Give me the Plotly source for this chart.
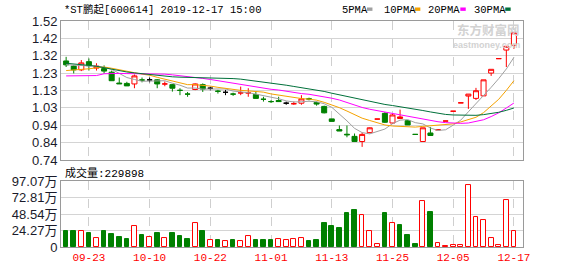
import plotly.graph_objects as go

# ---------------- data ----------------
dates = ["09-18", "09-19", "09-20", "09-23", "09-24", "09-25", "09-26", "09-27", "09-30", "10-08",
         "10-09", "10-10", "10-11", "10-14", "10-15", "10-16", "10-17", "10-18", "10-21", "10-22",
         "10-23", "10-24", "10-25", "10-28", "10-29", "10-30", "10-31", "11-01", "11-04", "11-05",
         "11-06", "11-07", "11-08", "11-11", "11-12", "11-13", "11-14", "11-15", "11-18", "11-19",
         "11-20", "11-21", "11-22", "11-25", "11-26", "11-27", "11-28", "11-29", "12-02", "12-03",
         "12-04", "12-05", "12-06", "12-09", "12-10", "12-11", "12-12", "12-13", "12-16", "12-17"]

opens = [1.296, 1.267, 1.246, 1.292, 1.256, 1.253, 1.233, 1.172, 1.170, 1.167,
         1.189, 1.190, 1.190, 1.167, 1.163, 1.131, 1.110, 1.136, 1.163, 1.143,
         1.126, 1.120, 1.110, 1.117, 1.117, 1.108, 1.081, 1.068, 1.074, 1.059,
         1.056, 1.059, 1.083, 1.063, 1.041, 0.971, 0.911, 0.885, 0.873, 0.844,
         0.894, 0.970, 1.002, 0.948, 0.973, 0.961, 0.884, 0.844, 0.892, 0.910,
         0.959, 1.014, 1.061, 1.099, 1.086, 1.100, 1.228, 1.309, 1.357, 1.384]
highs = [1.319, 1.271, 1.301, 1.310, 1.283, 1.271, 1.242, 1.203, 1.179, 1.220,
         1.203, 1.203, 1.194, 1.181, 1.167, 1.143, 1.122, 1.170, 1.170, 1.152,
         1.134, 1.134, 1.118, 1.152, 1.143, 1.127, 1.095, 1.076, 1.095, 1.068,
         1.068, 1.104, 1.090, 1.068, 1.045, 0.971, 0.934, 0.934, 0.889, 0.894,
         0.923, 0.970, 1.009, 1.002, 1.023, 0.961, 0.884, 0.921, 0.925, 0.910,
         0.959, 1.014, 1.061, 1.110, 1.145, 1.190, 1.249, 1.309, 1.378, 1.454]
lows = [1.262, 1.226, 1.239, 1.242, 1.242, 1.226, 1.185, 1.168, 1.156, 1.143,
        1.176, 1.176, 1.143, 1.154, 1.124, 1.104, 1.095, 1.132, 1.122, 1.131,
        1.113, 1.104, 1.100, 1.104, 1.095, 1.086, 1.068, 1.060, 1.068, 1.050,
        1.050, 1.050, 1.075, 1.045, 1.002, 0.957, 0.903, 0.868, 0.844, 0.814,
        0.890, 0.970, 0.948, 0.943, 0.973, 0.937, 0.884, 0.844, 0.878, 0.910,
        0.959, 1.014, 1.061, 1.027, 1.077, 1.100, 1.212, 1.309, 1.262, 1.364]
closes = [1.274, 1.246, 1.285, 1.269, 1.267, 1.239, 1.185, 1.168, 1.156, 1.212,
          1.189, 1.190, 1.167, 1.167, 1.143, 1.131, 1.110, 1.167, 1.138, 1.143,
          1.126, 1.120, 1.110, 1.117, 1.117, 1.086, 1.081, 1.068, 1.068, 1.059,
          1.056, 1.083, 1.083, 1.054, 1.005, 0.957, 0.903, 0.882, 0.844, 0.884,
          0.921, 0.970, 0.952, 0.993, 0.982, 0.937, 0.884, 0.921, 0.878, 0.910,
          0.959, 1.014, 1.061, 1.110, 1.129, 1.190, 1.249, 1.309, 1.378, 1.454]
# candle colour class: u = red hollow, d = green filled, g/k/r = flat candle in green/black/red
candle_kind = ["d", "d", "u", "d", "u", "d", "d", "d", "d", "u",
               "g", "k", "d", "r", "d", "g", "g", "u", "d", "k",
               "g", "k", "g", "r", "r", "d", "g", "g", "d", "k",
               "r", "u", "g", "d", "d", "d", "d", "d", "d", "u",
               "u", "r", "d", "u", "u", "d", "g", "u", "d", "r",
               "r", "r", "r", "u", "u", "u", "u", "r", "u", "u"]

ma5 = [1.275, 1.272, 1.270, 1.268, 1.268, 1.261, 1.249, 1.226, 1.203, 1.192,
       1.182, 1.183, 1.183, 1.185, 1.171, 1.160, 1.144, 1.144, 1.138, 1.138,
       1.137, 1.139, 1.127, 1.123, 1.118, 1.110, 1.102, 1.094, 1.084, 1.072,
       1.066, 1.067, 1.070, 1.067, 1.056, 1.036, 1.000, 0.960, 0.918, 0.894,
       0.887, 0.900, 0.914, 0.944, 0.964, 0.967, 0.950, 0.943, 0.920, 0.906,
       0.910, 0.936, 0.964, 1.011, 1.055, 1.101, 1.148, 1.197, 1.251, 1.316]
ma10 = [1.242, 1.244, 1.248, 1.252, 1.257, 1.262, 1.255, 1.248, 1.240, 1.230,
        1.222, 1.216, 1.204, 1.194, 1.182, 1.171, 1.163, 1.163, 1.161, 1.155,
        1.148, 1.141, 1.136, 1.131, 1.128, 1.123, 1.121, 1.111, 1.104, 1.095,
        1.088, 1.085, 1.082, 1.076, 1.064, 1.051, 1.034, 1.015, 0.993, 0.975,
        0.962, 0.950, 0.937, 0.931, 0.929, 0.927, 0.925, 0.929, 0.932, 0.935,
        0.939, 0.943, 0.954, 0.966, 0.980, 1.006, 1.042, 1.081, 1.131, 1.185]
ma20 = [1.212, 1.212, 1.213, 1.213, 1.214, 1.224, 1.226, 1.226, 1.225, 1.225,
        1.224, 1.224, 1.223, 1.222, 1.218, 1.214, 1.209, 1.204, 1.198, 1.192,
        1.185, 1.179, 1.170, 1.162, 1.155, 1.147, 1.142, 1.137, 1.133, 1.125,
        1.118, 1.113, 1.109, 1.103, 1.096, 1.087, 1.077, 1.063, 1.048, 1.035,
        1.025, 1.017, 1.010, 1.003, 0.997, 0.989, 0.979, 0.972, 0.962, 0.955,
        0.950, 0.947, 0.946, 0.948, 0.955, 0.966, 0.984, 1.005, 1.032, 1.060]
ma30 = [1.283, 1.280, 1.277, 1.271, 1.266, 1.258, 1.248, 1.240, 1.234, 1.229,
        1.224, 1.220, 1.215, 1.211, 1.207, 1.205, 1.204, 1.203, 1.203, 1.202,
        1.201, 1.199, 1.197, 1.194, 1.189, 1.183, 1.177, 1.171, 1.166, 1.160,
        1.153, 1.147, 1.141, 1.133, 1.125, 1.115, 1.106, 1.096, 1.086, 1.075,
        1.066, 1.059, 1.052, 1.046, 1.040, 1.034, 1.026, 1.018, 1.010, 1.002,
        0.996, 0.993, 0.991, 0.991, 0.991, 0.995, 1.000, 1.008, 1.019, 1.032]

volumes = [24.2, 24.2, 23.7, 20.3, 12.8, 24.2, 18.9, 14.2, 11.4, 31.3,
           17.1, 14.2, 19.9, 12.8, 19.9, 16.1, 11.8, 35.5, 24.2, 10.9,
           10.9, 8.1, 10.9, 9.5, 16.6, 10.9, 10.9, 10.9, 12.3, 10.9,
           12.3, 13.7, 9.5, 10.9, 35.5, 31.3, 27.9, 49.7, 54.0, 46.9,
           23.7, 4.3, 49.7, 35.1, 32.7, 17.1, 4.3, 67.8, 51.2, 5.2,
           1.4, 2.4, 2.4, 90.5, 43.6, 39.3, 13.7, 2.4, 69.2, 22.99]
vol_red = [0, 0, 1, 0, 1, 0, 0, 0, 0, 1,
           0, 1, 0, 1, 0, 0, 0, 1, 0, 1,
           0, 1, 0, 1, 1, 0, 0, 0, 1, 1,
           1, 1, 0, 0, 0, 0, 0, 0, 0, 1,
           1, 1, 0, 1, 0, 0, 0, 1, 0, 1,
           1, 1, 1, 1, 1, 1, 1, 1, 1, 1]

label_dates = ["09-23", "10-10", "10-22", "11-01", "11-13", "11-25", "12-05", "12-17"]
price_ticks = [1.52, 1.4225, 1.325, 1.2275, 1.13, 1.0325, 0.935, 0.8375, 0.74]
price_tick_text = ["1.52", "1.42", "1.32", "1.23", "1.13", "1.03", "0.94", "0.84", "0.74"]
vol_ticks = [0, 24.27, 48.54, 72.81, 97.07]
vol_tick_text = ["0", "24.27万", "48.54万", "72.81万", "97.07万"]
title_text = "*ST鹏起[600614] 2019-12-17 15:00"
ma_names = ["5PMA", "10PMA", "20PMA", "30PMA"]
volume_text = "成交量:229898"

# ---------------- styles ----------------
RED = "#ff0000"
GREEN = "#008000"
MA_COLORS = ["#a0a0a0", "#f5a200", "#ff00ff", "#00703a"]
W, H = 578, 276
ML, MR, MT, MB = 55, 55, 21, 21
PW, PH = W - ML - MR, H - MT - MB

def px_x(px):
    return (px - ML) / PW

def px_y(py):
    return (H - MB - py) / PH

fig = go.Figure()

kind_style = {
    "u": (RED, "#ffffff"),
    "d": (GREEN, GREEN),
    "g": (GREEN, GREEN),
    "k": ("#000000", "#000000"),
    "r": (RED, RED),
}
for kind, (lc, fc) in kind_style.items():
    idx = [i for i, k in enumerate(candle_kind) if k == kind]
    fig.add_trace(go.Candlestick(
        x=[dates[i] for i in idx],
        open=[closes[i] if kind in "gkr" else opens[i] for i in idx],
        high=[highs[i] for i in idx],
        low=[lows[i] for i in idx],
        close=[closes[i] for i in idx],
        increasing=dict(line=dict(color=lc, width=1), fillcolor=fc),
        decreasing=dict(line=dict(color=lc, width=1), fillcolor=fc),
        whiskerwidth=0, showlegend=False, hoverinfo="skip",
        xaxis="x", yaxis="y",
    ))

for name, vals, col in zip(ma_names, [ma5, ma10, ma20, ma30], MA_COLORS):
    fig.add_trace(go.Scatter(x=dates, y=vals, mode="lines", name=name,
                             line=dict(color=col, width=1), showlegend=False,
                             hoverinfo="skip", xaxis="x", yaxis="y"))

fig.add_trace(go.Bar(
    x=dates, y=volumes, width=0.62,
    marker=dict(color=["#ffffff" if r else GREEN for r in vol_red],
                line=dict(color=[RED if r else GREEN for r in vol_red], width=1)),
    showlegend=False, hoverinfo="skip", xaxis="x2", yaxis="y2",
))

# x range so that candle 0 sits at x=60.2px and candle 59 at x=513.8px
unit = (513.8 - 60.2) / (len(dates) - 1)
r0 = -(60.2 - ML) / unit
r1 = r0 + PW / unit

MONO = "Liberation Mono, Noto Sans CJK SC"
SANS = "Liberation Sans, Arial, Noto Sans CJK SC"
GRID = "#d4d4d4"
FRAME = "#9a9a9a"

common_x = dict(type="category", categoryorder="array", categoryarray=dates,
                range=[r0, r1], tickvals=label_dates, ticktext=label_dates,
                showgrid=True, gridcolor="#cfcfcf", griddash="dash", gridwidth=1,
                showline=True, mirror=True, linecolor=FRAME, linewidth=1,
                ticks="", zeroline=False, fixedrange=True)

fig.update_layout(
    width=W, height=H,
    margin=dict(l=ML, r=MR, t=MT, b=MB, pad=0),
    paper_bgcolor="#ffffff", plot_bgcolor="#ffffff",
    boxgap=0.34, boxgroupgap=0, boxmode="overlay", bargap=0,
    xaxis=dict(domain=[0, 1], anchor="y", showticklabels=False,
               rangeslider=dict(visible=False), **common_x),
    xaxis2=dict(domain=[0, 1], anchor="y2", matches="x", showticklabels=True,
                tickfont=dict(family=MONO, size=11, color=RED), **common_x),
    yaxis=dict(domain=[px_y(165), 1], range=[0.74, 1.52], tickvals=price_ticks,
               ticktext=price_tick_text, showgrid=True, gridcolor=GRID,
               showline=True, mirror=True, linecolor=FRAME, ticks="",
               zeroline=False, tickfont=dict(family=SANS, size=13, color="#1a1a2a")),
    yaxis2=dict(domain=[0, px_y(186.7)], range=[0, 97.07], tickvals=vol_ticks,
                ticktext=vol_tick_text, showgrid=True, gridcolor=GRID,
                showline=True, mirror=True, linecolor=FRAME, ticks="",
                zeroline=False, tickfont=dict(family=SANS, size=13, color="#1a1a2a")),
    font=dict(family=SANS),
)

annotations = [
    dict(text=title_text, x=px_x(56), y=px_y(9.5), xanchor="left", yanchor="middle",
         font=dict(family=MONO, size=10.5, color="#000000")),
    dict(text=volume_text, x=px_x(57), y=px_y(178), xanchor="left", yanchor="middle",
         font=dict(family=MONO, size=11, color="#000000")),
    dict(text="<b>东方财富网</b>", x=px_x(522), y=px_y(30), xanchor="right", yanchor="middle",
         font=dict(family="Noto Sans CJK SC", size=12.5, color="#d2d2d2")),
    dict(text="<b>eastmoney.com</b>", x=px_x(522), y=px_y(45.5), xanchor="right", yanchor="middle",
         font=dict(family=SANS, size=9, color="#d2d2d2")),
]
legend_x = [338, 380, 425, 471.5]
square_x = [365, 413.5, 459.5, 505]
shapes = []
for name, lx, sx, col in zip(ma_names, legend_x, square_x, MA_COLORS):
    annotations.append(dict(text=name, x=px_x(lx), y=px_y(9.5), xanchor="left",
                            yanchor="middle", font=dict(family=MONO, size=10.5, color="#000000")))
    shapes.append(dict(type="rect", xref="paper", yref="paper",
                       x0=px_x(sx), x1=px_x(sx + 5.5), y0=px_y(10.5), y1=px_y(7),
                       fillcolor=col, line=dict(width=0)))
for a in annotations:
    a.update(xref="paper", yref="paper", showarrow=False)
fig.update_layout(annotations=annotations, shapes=shapes)

fig.write_html("out.html")
